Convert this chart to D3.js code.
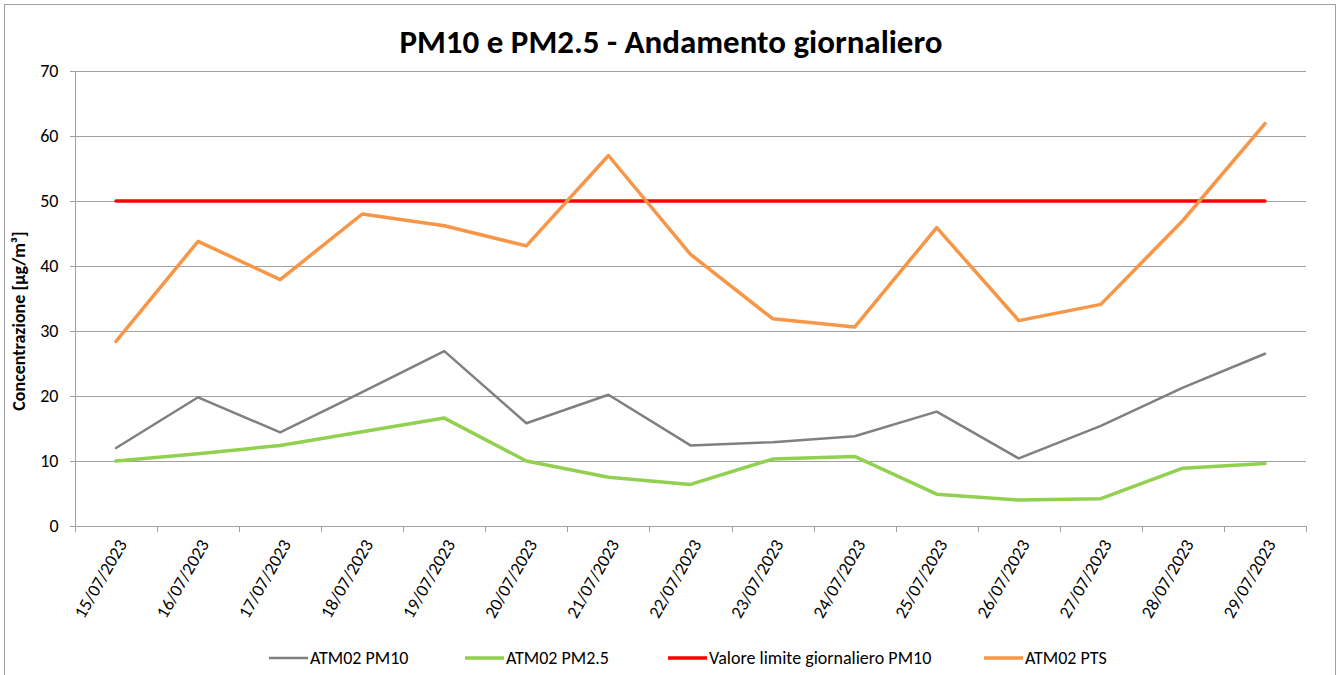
<!DOCTYPE html>
<html>
<head>
<meta charset="utf-8">
<script src="https://cdn.jsdelivr.net/npm/d3@7"></script>
<style>
  body { margin: 0; background: #fff; }
  svg text { font-family: Carlito, "Open Sans", "Noto Sans", sans-serif; fill: #000; }
</style>
</head>
<body>
<div id="chart"></div>
<script>
// categories (days)
var days = ["15/07/2023", "16/07/2023", "17/07/2023", "18/07/2023", "19/07/2023", "20/07/2023", "21/07/2023",
    "22/07/2023", "23/07/2023", "24/07/2023", "25/07/2023", "26/07/2023", "27/07/2023", "28/07/2023", "29/07/2023"];

// series values (µg/m3)
var pm10 = [12.0, 19.8, 14.4, 20.6, 26.9, 15.8, 20.2, 12.4, 12.9, 13.8, 17.6, 10.4, 15.4, 21.3, 26.5];
var pm25 = [10.0, 11.1, 12.4, 14.5, 16.6, 10.0, 7.5, 6.4, 10.3, 10.7, 4.9, 4.0, 4.2, 8.9, 9.6];
var limitPm10 = [50, 50, 50, 50, 50, 50, 50, 50, 50, 50, 50, 50, 50, 50, 50];
var pts = [28.4, 43.8, 37.9, 48.0, 46.2, 43.1, 57.0, 41.8, 31.9, 30.6, 45.9, 31.6, 34.1, 47.0, 61.9];

var yTicks = [0, 10, 20, 30, 40, 50, 60, 70];

var series = [
    { name: "ATM02 PM10", values: pm10, color: "#808080", width: 2.5 },
    { name: "ATM02 PM2.5", values: pm25, color: "#92D050", width: 3.5 },
    { name: "Valore limite giornaliero PM10", values: limitPm10, color: "#FF0000", width: 3.5 },
    { name: "ATM02 PTS", values: pts, color: "#F79646", width: 3.5 }
];

var width = 1343, height = 675;
var margin = { top: 71, right: 37, bottom: 148, left: 75 };

var svg = d3.select("#chart").append("svg")
    .attr("width", width)
    .attr("height", height);

// outer chart border
svg.append("rect")
    .attr("x", 4.5).attr("y", 4.5)
    .attr("width", 1331).attr("height", 680)
    .attr("fill", "none")
    .attr("stroke", "#a0a0a0")
    .attr("stroke-width", 1);

// title
svg.append("text")
    .attr("x", 671).attr("y", 53)
    .attr("text-anchor", "middle")
    .style("font-size", "33px")
    .style("font-weight", "bold")
    .text("PM10 e PM2.5 - Andamento giornaliero");

var x = d3.scaleBand()
    .domain(days)
    .range([margin.left, width - margin.right]);

var y = d3.scaleLinear()
    .domain([0, 70])
    .range([height - margin.bottom - 1, margin.top]);

// horizontal gridlines
svg.append("g")
    .selectAll("line")
    .data(yTicks)
    .join("line")
    .attr("x1", margin.left - 5)
    .attr("x2", width - margin.right)
    .attr("y1", d => Math.round(y(d)) + 0.5)
    .attr("y2", d => Math.round(y(d)) + 0.5)
    .attr("stroke", "#a0a0a0")
    .attr("stroke-width", 1);

// y axis
var yAxis = svg.append("g")
    .attr("transform", "translate(" + (margin.left + 0.5) + ",0)")
    .call(d3.axisLeft(y).tickValues(yTicks).tickSize(5).tickPadding(12));
yAxis.selectAll("line").attr("stroke", "#a0a0a0");
yAxis.select(".domain").attr("stroke", "#a0a0a0").attr("d", "M0," + y(70) + "V" + (y(0) + 0.5));
yAxis.selectAll("text").style("font-size", "18px").style("font-family", 'Carlito, "Open Sans", sans-serif');

// x axis ticks at band boundaries
var bounds = days.map(d => x(d)).concat([x.range()[1]]);
svg.append("g")
    .selectAll("line")
    .data(bounds)
    .join("line")
    .attr("x1", d => Math.round(d) + 0.5)
    .attr("x2", d => Math.round(d) + 0.5)
    .attr("y1", Math.round(y(0)))
    .attr("y2", Math.round(y(0)) + 6)
    .attr("stroke", "#a0a0a0");

// x labels
svg.append("g")
    .selectAll("text")
    .data(days)
    .join("text")
    .attr("transform", d => "translate(" + (x(d) + x.bandwidth() / 2 + 6) + "," + (y(0) + 15) + ") rotate(-60)")
    .attr("text-anchor", "end")
    .attr("dy", "0.35em")
    .style("font-size", "18px")
    .text(d => d);

// y axis title
svg.append("text")
    .attr("transform", "translate(25,321) rotate(-90)")
    .attr("text-anchor", "middle")
    .style("font-size", "18px")
    .style("font-weight", "bold")
    .text("Concentrazione [µg/m³]");

// lines
var line = d3.line()
    .x((d, i) => x(days[i]) + x.bandwidth() / 2)
    .y(d => y(d));

svg.append("g")
    .selectAll("path")
    .data(series)
    .join("path")
    .attr("d", s => line(s.values))
    .attr("fill", "none")
    .attr("stroke", s => s.color)
    .attr("stroke-width", s => s.width)
    .attr("stroke-linejoin", "round")
    .attr("stroke-linecap", "round");

// legend
var legendX = [269, 465, 668, 984];
var legend = svg.append("g")
    .selectAll("g")
    .data(series)
    .join("g")
    .attr("transform", (s, i) => "translate(" + legendX[i] + ",658)");
legend.append("line")
    .attr("x1", 0).attr("x2", 39)
    .attr("stroke", s => s.color)
    .attr("stroke-width", s => s.width);
legend.append("text")
    .attr("x", 41)
    .attr("dy", "0.35em")
    .style("font-size", "18px")
    .text(s => s.name);
</script>
</body>
</html>
